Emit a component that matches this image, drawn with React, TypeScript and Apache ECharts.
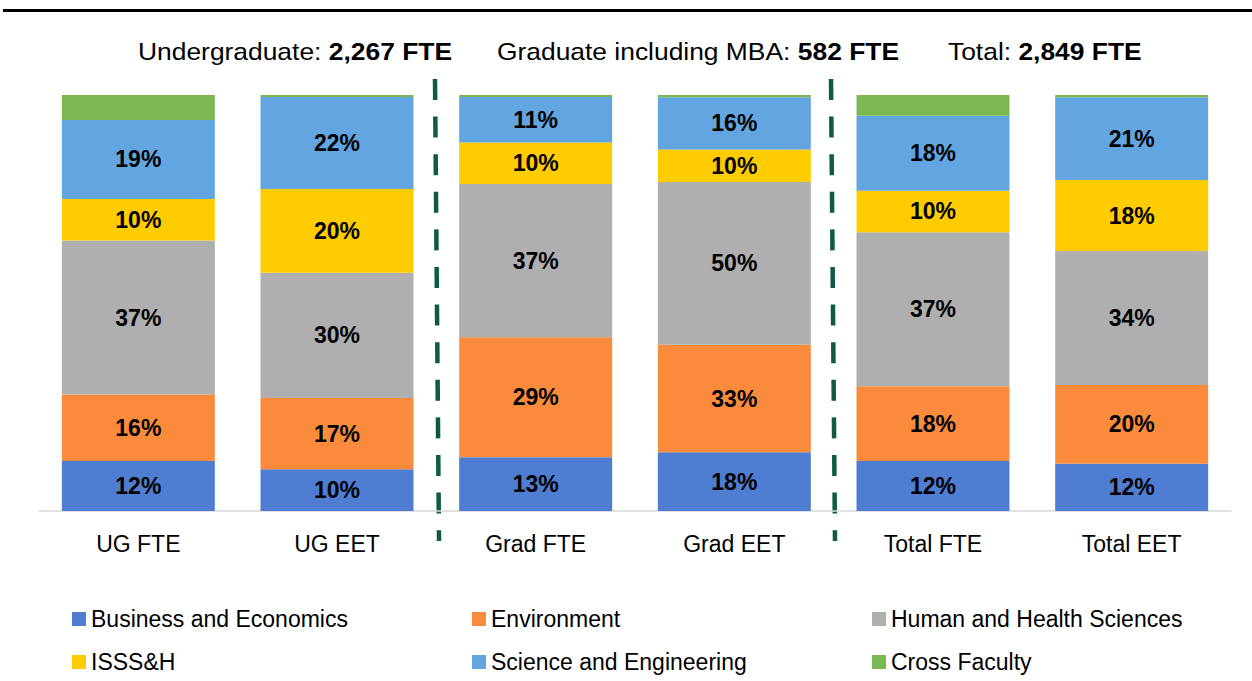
import React, { useEffect, useRef } from "react";
import * as echarts from "echarts";

const categories = ["UG FTE", "UG EET", "Grad FTE", "Grad EET", "Total FTE", "Total EET"];
const seriesNames = [
  "Business and Economics",
  "Environment",
  "Human and Health Sciences",
  "ISSS&H",
  "Science and Engineering",
  "Cross Faculty",
];
const business = [12, 10, 13, 18, 12, 12];
const environment = [16, 17, 29, 33, 18, 20];
const humanHealth = [37, 30, 37, 50, 37, 34];
const isssh = [10, 20, 10, 10, 10, 18];
const sciEng = [19, 22, 11, 16, 18, 21];
const crossFaculty = [6, 0.5, 0.5, 0.7, 5, 0.6];
const headerLabels = ["Undergraduate: ", "Graduate including MBA: ", "Total: "];
const headerValues = ["2,267 FTE", "582 FTE", "2,849 FTE"];

const colors = ["#4E7DD2", "#FA8B3D", "#AFAFAF", "#FFCC00", "#62A5E1", "#7CB852"];
const FONT = "'Liberation Sans', Arial, sans-serif";

export default function App() {
  const ref = useRef<HTMLDivElement>(null);
  useEffect(() => {
    document.body.style.margin = "0";
    const chart = echarts.init(ref.current!, null, { renderer: "svg" });
    const raw = [business, environment, humanHealth, isssh, sciEng, crossFaculty];
    const totals = categories.map((_, i) => raw.reduce((s, a) => s + a[i], 0));
    const series = raw.map((arr, k) => ({
      name: seriesNames[k],
      type: "bar",
      stack: "total",
      barWidth: "77%",
      data: arr.map((v, i) => (v / totals[i]) * 100),
      itemStyle: { color: colors[k] },
      label: {
        show: k < 5,
        position: "inside",
        fontFamily: FONT,
        fontWeight: "bold",
        fontSize: 23,
        color: "#000",
        formatter: (p: any) => arr[p.dataIndex] + "%",
      },
    }));
    const headerX = [138, 497, 948];
    const graphic: any[] = [
      {
        type: "line",
        shape: { x1: 3, y1: 10.5, x2: 1252, y2: 10.5 },
        style: { stroke: "#000", lineWidth: 3 },
      },
      {
        type: "line",
        shape: { x1: 435, y1: 79, x2: 439, y2: 541 },
        style: { stroke: "#0E5A44", lineWidth: 4.5, lineDash: [21, 16.6] },
      },
      {
        type: "line",
        shape: { x1: 831, y1: 79, x2: 835, y2: 541 },
        style: { stroke: "#0E5A44", lineWidth: 4.5, lineDash: [21, 16.6] },
      },
      ...headerLabels.map((t, i) => ({
        type: "text",
        x: headerX[i],
        y: 51,
        scaleX: 1.1,
        style: {
          text: `{a|${t}}{b|${headerValues[i]}}`,
          verticalAlign: "middle",
          rich: {
            a: { fontFamily: FONT, fontSize: 24, fill: "#000", fontWeight: "normal" },
            b: { fontFamily: FONT, fontSize: 24, fill: "#000", fontWeight: "bold" },
          },
        },
      })),
    ];
    const legendBase = {
      left: 72,
      padding: 0,
      itemWidth: 14,
      itemHeight: 14,
      itemGap: 81,
      icon: "rect",
      selectedMode: false,
      textStyle: { fontFamily: FONT, fontSize: 23, color: "#000", width: 300, lineHeight: 26 },
    };
    chart.setOption({
      animation: false,
      grid: { left: 39, right: 21, top: 95, bottom: 170 },
      legend: [
        { ...legendBase, top: 606, data: seriesNames.slice(0, 3) },
        { ...legendBase, top: 649, data: seriesNames.slice(3) },
      ],
      xAxis: {
        type: "category",
        data: categories,
        axisLine: { show: true, lineStyle: { color: "#D9D9D9", width: 1.5 } },
        axisTick: { show: false },
        axisLabel: { fontFamily: FONT, fontSize: 23, color: "#000", margin: 21 },
      },
      yAxis: { type: "value", min: 0, max: 100, show: false, splitLine: { show: false } },
      series,
      graphic,
    });
    return () => chart.dispose();
  }, []);
  return <div ref={ref} style={{ width: 1252, height: 681 }} />;
}
